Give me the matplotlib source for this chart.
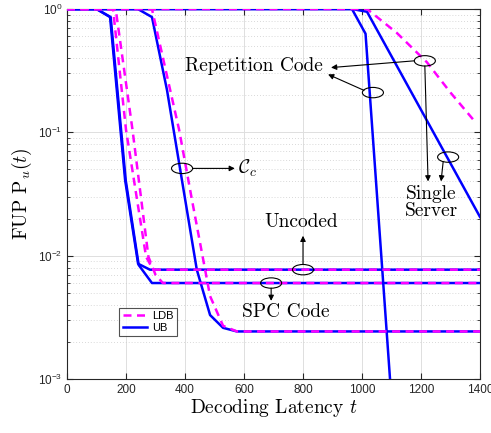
import numpy as np
import matplotlib
matplotlib.use('Agg')
import matplotlib.pyplot as plt
from matplotlib.patches import Ellipse

plt.rcParams['font.family'] = ['Liberation Sans', 'DejaVu Sans']
plt.rcParams['mathtext.fontset'] = 'cm'

# --- data ---
# Uncoded
t_unc_ub = [0, 100, 146, 197, 241, 281, 1400]
p_unc_ub = [1, 1, 0.86, 0.041, 0.0086, 0.0077, 0.0077]
t_unc_ldb = [0, 156, 200, 268, 292, 1400]
p_unc_ldb = [1, 1, 0.105, 0.0098, 0.0077, 0.0077]
# SPC code
t_spc_ub = [0, 100, 148, 199, 243, 288, 1400]
p_spc_ub = [1, 1, 0.86, 0.041, 0.0084, 0.0060, 0.0060]
t_spc_ldb = [0, 165, 222, 276, 300, 325, 1400]
p_spc_ldb = [1, 1, 0.105, 0.0098, 0.0070, 0.0060, 0.0060]
# C_c
t_cc_ub = [0, 240, 288, 339, 440, 485, 529, 576, 1400]
p_cc_ub = [1, 1, 0.86, 0.22, 0.0077, 0.0033, 0.0026, 0.00243, 0.00243]
t_cc_ldb = [0, 288, 380, 424, 485, 529, 576, 1400]
p_cc_ldb = [1, 1, 0.105, 0.028, 0.0047, 0.0027, 0.00243, 0.00243]
# Repetition code
t_rep_ub = [0, 966, 1012, 1095]
p_rep_ub = [1, 1, 0.63, 0.001]
# Single server
t_ss_ub = [0, 966, 1017, 1400]
p_ss_ub = [1, 1, 0.95, 0.0206]
t_ss_ldb = [0, 1017, 1118, 1220, 1300, 1383]
p_ss_ldb = [1, 1, 0.64, 0.37, 0.21, 0.122]

xticks = [0, 200, 400, 600, 800, 1000, 1200, 1400]
yticks = [1e-3, 1e-2, 1e-1, 1e0]
ytick_labels = [r'$\mathregular{10^{-3}}$', r'$\mathregular{10^{-2}}$',
                r'$\mathregular{10^{-1}}$', r'$\mathregular{10^{0}}$']

BLUE = (0, 0, 1)
MAG = (1, 0, 1)

fig = plt.figure(figsize=(4.91, 4.33), dpi=100)
ax = fig.add_axes([67/491, 1-379/433, 413/491, 370/433])

ub_sets = [(t_unc_ub, p_unc_ub), (t_spc_ub, p_spc_ub), (t_cc_ub, p_cc_ub),
           (t_rep_ub, p_rep_ub), (t_ss_ub, p_ss_ub)]
ldb_sets = [(t_unc_ldb, p_unc_ldb), (t_spc_ldb, p_spc_ldb), (t_cc_ldb, p_cc_ldb),
            (t_ss_ldb, p_ss_ldb)]

for i, (t, p) in enumerate(ub_sets):
    ax.plot(t, p, color=BLUE, lw=1.8, label='UB' if i == 0 else None, zorder=3)
for i, (t, p) in enumerate(ldb_sets):
    ax.plot(t, p, color=MAG, lw=1.8, ls=(0, (3.2, 2.2)),
            label='LDB' if i == 0 else None, zorder=4)

ax.set_yscale('log')
ax.set_xlim(0, 1400)
ax.set_ylim(1e-3, 1)
ax.set_xticks(xticks)
ax.set_yticks(yticks)
ax.set_yticklabels(ytick_labels)
ax.tick_params(which='both', direction='in', top=True, right=True,
               labelsize=8.5, colors='0.15')
ax.tick_params(which='major', length=4)
ax.tick_params(which='minor', length=2.2)
ax.grid(True, which='major', color='0.87', lw=0.7)
ax.grid(True, which='minor', axis='y', color='0.8', lw=0.6, ls=(0, (1, 2.5)))
ax.set_axisbelow(True)
for s in ax.spines.values():
    s.set_color('0.15')
    s.set_linewidth(0.8)

ax.set_xlabel(r'Decoding Latency $t$', fontfamily='cmr10', fontsize=14, labelpad=1)
ax.set_ylabel(r'FUP $\mathrm{P}_u(t)$', fontfamily='cmr10', fontsize=14, labelpad=3)

h, l = ax.get_legend_handles_labels()
leg = ax.legend(h[::-1], l[::-1], loc='lower left', bbox_to_anchor=(0.113, 0.1),
                fontsize=8, frameon=True, fancybox=False, edgecolor='0.15',
                handlelength=2.2, borderpad=0.3, labelspacing=0.2, handletextpad=0.5)
leg.get_frame().set_linewidth(0.8)


def frac(t, p):
    return ax.transAxes.inverted().transform(ax.transData.transform((t, p)))


ew, eh = 0.051, 0.028
arrow_kw = dict(arrowstyle='-|>', color='k', lw=0.8, mutation_scale=8,
                shrinkA=0, shrinkB=0)


def ellipse(t, p):
    c = frac(t, p)
    ax.add_patch(Ellipse(c, ew, eh, transform=ax.transAxes, fill=False,
                         ec='k', lw=0.8, zorder=6))
    return c


def arrow(start, end):
    ax.annotate('', xy=end, xycoords='axes fraction', xytext=start,
                textcoords='axes fraction', arrowprops=arrow_kw, zorder=6)


txt_kw = dict(fontfamily='cmr10', fontsize=14, ha='center', va='center', zorder=7)

# Repetition code / single server
c1 = ellipse(1213, 0.38)
c2 = ellipse(1037, 0.21)
c3 = ellipse(1292, 0.063)
ax.text(634, 0.345, 'Repetition Code', **txt_kw)
arrow((c1[0] - ew / 2, c1[1]), frac(895, 0.335))
arrow((c2[0] - ew / 2 + 0.004, c2[1] + 0.006), frac(885, 0.295))
arrow((c1[0], c1[1] - eh / 2), frac(1224, 0.040))
arrow((c3[0] - 0.012, c3[1] - eh / 2 + 0.002), frac(1268, 0.040))
ax.text(1236, 0.027, 'Single\nServer', linespacing=0.95, **txt_kw)

# C_c
c4 = ellipse(390, 0.051)
arrow((c4[0] + ew / 2, c4[1]), frac(569, 0.051))
ax.text(578, 0.051, r'$\mathcal{C}_c$', fontsize=14, ha='left', va='center')

# Uncoded
c5 = ellipse(800, 0.0077)
arrow((c5[0], c5[1] + eh / 2), frac(800, 0.0145))
ax.text(795, 0.0187, 'Uncoded', **txt_kw)

# SPC code
c6 = ellipse(692, 0.0060)
arrow((c6[0], c6[1] - eh / 2), frac(692, 0.0043))
ax.text(742, 0.0035, 'SPC Code', **txt_kw)

fig.savefig('out.png', dpi=100)
